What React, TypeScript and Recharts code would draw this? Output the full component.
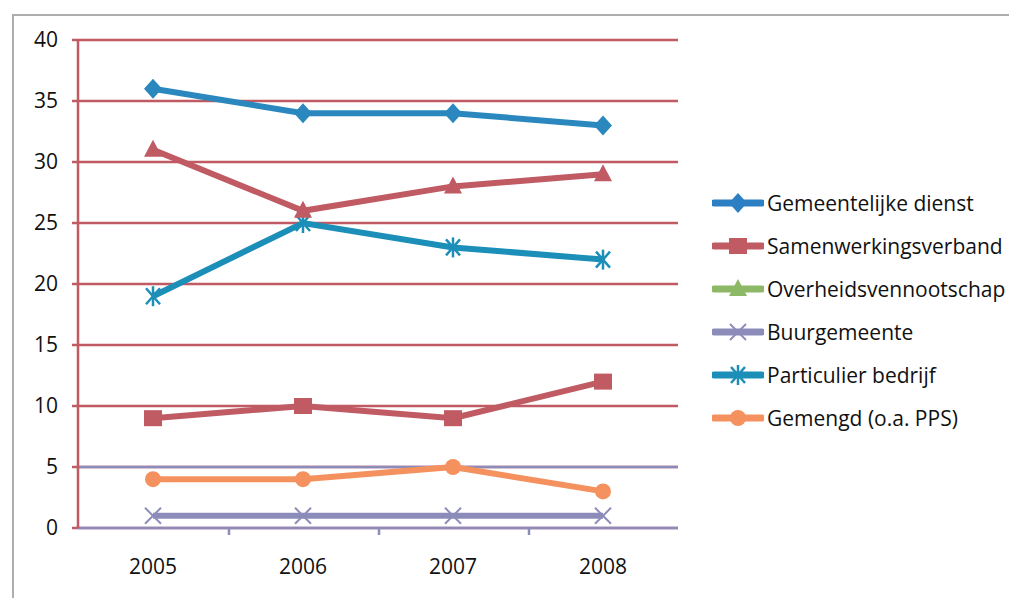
import { LineChart, Line, XAxis, YAxis, CartesianGrid, ReferenceLine } from "recharts";

const years = ["2005", "2006", "2007", "2008"];
const gemeentelijkeDienst = [36, 34, 34, 33];
const samenwerkingsverband = [9, 10, 9, 12];
const overheidsvennootschap = [31, 26, 28, 29];
const buurgemeente = [1, 1, 1, 1];
const particulierBedrijf = [19, 25, 23, 22];
const gemengd = [4, 4, 5, 3];
const yTicks = [0, 5, 10, 15, 20, 25, 30, 35, 40];

const RED = "#C05A63";
const PURPLE = "#8C8CBA";
const FONT = "'Open Sans', sans-serif";
const TEXT = "#111";

const data = years.map((year, i) => ({
  year,
  gemeentelijke: gemeentelijkeDienst[i],
  samenwerking: samenwerkingsverband[i],
  overheid: overheidsvennootschap[i],
  buur: buurgemeente[i],
  particulier: particulierBedrijf[i],
  gemengd: gemengd[i],
}));

type MarkerKind = "diamond" | "square" | "triangle" | "cross" | "star" | "circle";

const Marker = ({ kind, cx, cy, color }: { kind: MarkerKind; cx: number; cy: number; color: string }) => {
  switch (kind) {
    case "diamond":
      return <polygon points={`${cx},${cy - 10} ${cx + 9},${cy} ${cx},${cy + 10} ${cx - 9},${cy}`} fill={color} />;
    case "square":
      return <rect x={cx - 9} y={cy - 8} width={18} height={16} fill={color} />;
    case "triangle":
      return <polygon points={`${cx},${cy - 10} ${cx + 9},${cy + 7} ${cx - 9},${cy + 7}`} fill={color} />;
    case "cross":
      return (
        <g stroke={color} strokeWidth={2}>
          <line x1={cx - 8} y1={cy - 8} x2={cx + 8} y2={cy + 8} />
          <line x1={cx - 8} y1={cy + 8} x2={cx + 8} y2={cy - 8} />
        </g>
      );
    case "star":
      return (
        <g stroke={color} strokeWidth={2.5}>
          <line x1={cx - 7} y1={cy - 8} x2={cx + 7} y2={cy + 8} />
          <line x1={cx - 7} y1={cy + 8} x2={cx + 7} y2={cy - 8} />
          <line x1={cx} y1={cy - 10} x2={cx} y2={cy + 10} />
        </g>
      );
    default:
      return <circle cx={cx} cy={cy} r={8} fill={color} />;
  }
};

const series: { key: string; name: string; color: string; legendColor: string; marker: MarkerKind }[] = [
  { key: "buur", name: "Buurgemeente", color: PURPLE, legendColor: PURPLE, marker: "cross" },
  { key: "gemengd", name: "Gemengd (o.a. PPS)", color: "#F4915E", legendColor: "#F4915E", marker: "circle" },
  { key: "samenwerking", name: "Samenwerkingsverband", color: RED, legendColor: RED, marker: "square" },
  { key: "particulier", name: "Particulier bedrijf", color: "#1C8FB9", legendColor: "#1C8FB9", marker: "star" },
  { key: "overheid", name: "Overheidsvennootschap", color: RED, legendColor: "#8DB865", marker: "triangle" },
  { key: "gemeentelijke", name: "Gemeentelijke dienst", color: "#2A88BF", legendColor: "#2C7FC2", marker: "diamond" },
];

const legendOrder = ["gemeentelijke", "samenwerking", "overheid", "buur", "particulier", "gemengd"];

const XTick = ({ x, y, payload, index }: any) => (
  <g>
    <text x={x} y={y + 46} textAnchor="middle" fontSize={21} fontFamily={FONT} fill={TEXT}>
      {payload.value}
    </text>
    {index < years.length - 1 && (
      <line x1={x + 76} x2={x + 76} y1={y} y2={y + 7} stroke={PURPLE} strokeWidth={2.5} />
    )}
  </g>
);

const App = () => {
  return (
    <div style={{ position: "relative", width: 1009, height: 590, background: "#fff" }}>
      <div
        style={{
          position: "absolute",
          left: 4,
          top: 6,
          width: 1010,
          height: 590,
          borderTop: "2px solid #ADADAD",
          borderLeft: "2px solid #ADADAD",
        }}
      />
      <div style={{ position: "absolute", left: 0, top: 0 }}>
        <LineChart width={1000} height={580} data={data} margin={{ top: 32, right: 330, left: 0, bottom: 30 }}>
          <CartesianGrid vertical={false} stroke={RED} strokeWidth={2.5} />
          <ReferenceLine y={5} stroke={PURPLE} strokeWidth={2.5} />
          <XAxis
            dataKey="year"
            padding={{ left: 75, right: 75 }}
            height={30}
            tickSize={0}
            tickMargin={0}
            tickLine={false}
            axisLine={{ stroke: PURPLE, strokeWidth: 2.5 }}
            tick={<XTick />}
            interval={0}
          />
          <YAxis
            width={70}
            domain={[0, 40]}
            ticks={yTicks}
            interval={0}
            tickSize={6}
            tickMargin={14}
            axisLine={{ stroke: RED, strokeWidth: 2.5 }}
            tickLine={{ stroke: RED, strokeWidth: 2.5 }}
            tick={{ fontSize: 21, fontFamily: FONT, fill: TEXT }}
          />
          {series.map((s) => (
            <Line
              key={s.key}
              dataKey={s.key}
              name={s.name}
              stroke={s.color}
              strokeWidth={6}
              isAnimationActive={false}
              dot={(p: any) => <Marker key={`${s.key}-${p.index}`} kind={s.marker} cx={p.cx} cy={p.cy} color={s.color} />}
              activeDot={false}
            />
          ))}
        </LineChart>
      </div>
      <div style={{ position: "absolute", left: 704, top: 173, fontFamily: FONT, fontSize: 21, color: TEXT }}>
        {legendOrder.map((k) => {
          const s = series.find((x) => x.key === k)!;
          return (
            <div key={k} style={{ display: "flex", alignItems: "center", height: 43, whiteSpace: "nowrap" }}>
              <svg width={52} height={24} style={{ marginRight: 3 }}>
                <line x1={2} x2={50} y1={12} y2={12} stroke={s.legendColor} strokeWidth={7} strokeLinecap="round" />
                <Marker kind={s.marker} cx={26} cy={12} color={s.legendColor} />
              </svg>
              <span>{s.name}</span>
            </div>
          );
        })}
      </div>
    </div>
  );
};

export default App;
